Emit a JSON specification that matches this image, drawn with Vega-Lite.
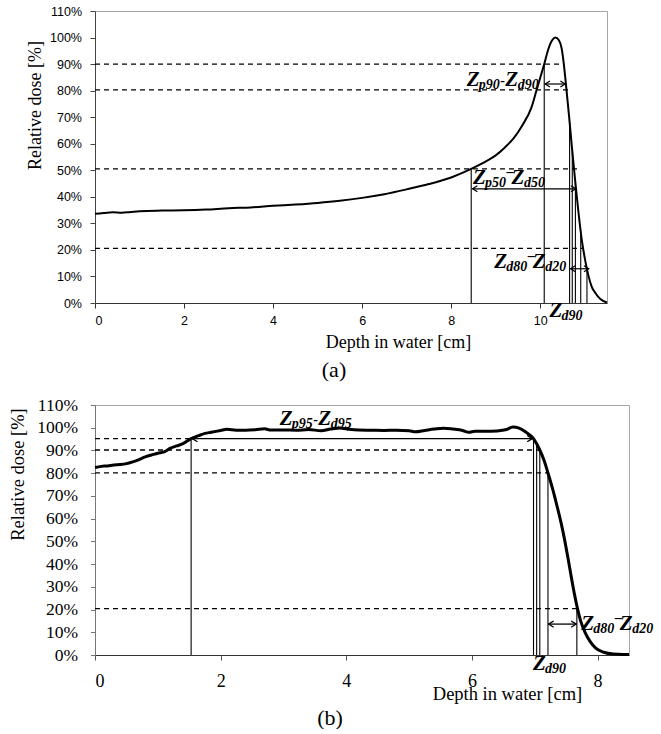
{
  "$schema": "https://vega.github.io/schema/vega-lite/v6.json",
  "background": "white",
  "padding": {"left": 5, "top": 4, "right": 0, "bottom": 0},
  "spacing": 13,
  "config": {
    "view": {"stroke": "#a6a6a6", "strokeWidth": 1},
    "axis": {"grid": false, "labelColor": "black", "titleColor": "black", "titleFontWeight": "normal"}
  },
  "datasets": {
    "curveA": [
      {"depth": 0.0, "dose": 33.6}, {"depth": 0.2, "dose": 33.9}, {"depth": 0.4, "dose": 34.2}, {"depth": 0.6, "dose": 34.0},
      {"depth": 0.8, "dose": 34.3}, {"depth": 1.0, "dose": 34.6}, {"depth": 1.5, "dose": 34.8}, {"depth": 2.0, "dose": 34.9},
      {"depth": 2.5, "dose": 35.2}, {"depth": 3.0, "dose": 35.7}, {"depth": 3.5, "dose": 36.0}, {"depth": 4.0, "dose": 36.6},
      {"depth": 4.5, "dose": 37.1}, {"depth": 5.0, "dose": 37.7}, {"depth": 5.5, "dose": 38.5}, {"depth": 6.0, "dose": 39.6},
      {"depth": 6.5, "dose": 41.0}, {"depth": 7.0, "dose": 42.8}, {"depth": 7.5, "dose": 44.8}, {"depth": 8.0, "dose": 47.3},
      {"depth": 8.45, "dose": 50.5}, {"depth": 8.8, "dose": 53.5}, {"depth": 9.0, "dose": 55.6}, {"depth": 9.2, "dose": 58.5},
      {"depth": 9.4, "dose": 62.0}, {"depth": 9.6, "dose": 67.0}, {"depth": 9.8, "dose": 73.5}, {"depth": 9.92, "dose": 80.3},
      {"depth": 10.09, "dose": 90.0}, {"depth": 10.18, "dose": 95.5}, {"depth": 10.26, "dose": 98.8}, {"depth": 10.34, "dose": 100.0},
      {"depth": 10.42, "dose": 99.0}, {"depth": 10.48, "dose": 96.0}, {"depth": 10.53, "dose": 90.0}, {"depth": 10.59, "dose": 80.3},
      {"depth": 10.65, "dose": 70.0}, {"depth": 10.71, "dose": 59.0}, {"depth": 10.78, "dose": 47.0}, {"depth": 10.86, "dose": 34.0},
      {"depth": 10.94, "dose": 23.0}, {"depth": 11.0, "dose": 17.0}, {"depth": 11.08, "dose": 10.5}, {"depth": 11.16, "dose": 6.0},
      {"depth": 11.25, "dose": 3.5}, {"depth": 11.35, "dose": 1.5}, {"depth": 11.5, "dose": 0.2}
    ],
    "levelsA": [
      {"depth": 0, "depth2": 10.54, "dose": 90.0},
      {"depth": 0, "depth2": 10.63, "dose": 80.3},
      {"depth": 0, "depth2": 10.91, "dose": 50.5},
      {"depth": 0, "depth2": 10.96, "dose": 20.6}
    ],
    "dropsA": [
      {"depth": 8.45, "dose": 0, "dose2": 50.5},
      {"depth": 10.09, "dose": 0, "dose2": 90.0},
      {"depth": 10.66, "dose": 0, "dose2": 68.0},
      {"depth": 10.72, "dose": 0, "dose2": 57.5},
      {"depth": 10.79, "dose": 0, "dose2": 45.5},
      {"depth": 10.91, "dose": 0, "dose2": 27.0},
      {"depth": 11.05, "dose": 0, "dose2": 13.0}
    ],
    "spansA": [
      {"depth": 10.11, "depth2": 10.56, "dose": 82.5},
      {"depth": 8.48, "depth2": 10.8, "dose": 43.0},
      {"depth": 10.68, "depth2": 11.09, "dose": 12.9}
    ],
    "labelsA": [
      {"depth": 8.35, "dose": 81.6, "lead": "Z", "s1": "p90", "dash": "-", "z2": "Z", "s2": "d90"},
      {"depth": 8.49, "dose": 44.7, "lead": "Z", "s1": "p50", "dash": "¯", "z2": "Z", "s2": "d50"},
      {"depth": 8.97, "dose": 13.0, "lead": "Z", "s1": "d80", "dash": "¯", "z2": "Z", "s2": "d20"},
      {"depth": 10.21, "dose": -5.4, "lead": "Z", "s1": "d90", "dash": "", "z2": "", "s2": ""}
    ],
    "curveB": [
      {"depth": 0.0, "dose": 82.5}, {"depth": 0.1, "dose": 83.0}, {"depth": 0.2, "dose": 83.2}, {"depth": 0.3, "dose": 83.6},
      {"depth": 0.4, "dose": 83.8}, {"depth": 0.5, "dose": 84.2}, {"depth": 0.6, "dose": 85.0}, {"depth": 0.7, "dose": 86.0},
      {"depth": 0.8, "dose": 87.2}, {"depth": 0.9, "dose": 88.0}, {"depth": 1.0, "dose": 88.8}, {"depth": 1.1, "dose": 89.4},
      {"depth": 1.2, "dose": 91.0}, {"depth": 1.3, "dose": 92.0}, {"depth": 1.4, "dose": 93.0}, {"depth": 1.53, "dose": 95.2},
      {"depth": 1.65, "dose": 96.5}, {"depth": 1.75, "dose": 97.5}, {"depth": 1.85, "dose": 98.0}, {"depth": 2.0, "dose": 98.8},
      {"depth": 2.1, "dose": 99.3}, {"depth": 2.25, "dose": 98.9}, {"depth": 2.4, "dose": 98.9}, {"depth": 2.55, "dose": 99.1},
      {"depth": 2.7, "dose": 99.5}, {"depth": 2.8, "dose": 99.0}, {"depth": 3.0, "dose": 99.0}, {"depth": 3.2, "dose": 98.9},
      {"depth": 3.4, "dose": 99.2}, {"depth": 3.6, "dose": 98.7}, {"depth": 3.75, "dose": 99.4}, {"depth": 3.9, "dose": 99.9},
      {"depth": 4.05, "dose": 99.3}, {"depth": 4.2, "dose": 99.0}, {"depth": 4.4, "dose": 98.9}, {"depth": 4.6, "dose": 98.8},
      {"depth": 4.8, "dose": 98.9}, {"depth": 5.0, "dose": 98.7}, {"depth": 5.1, "dose": 98.2}, {"depth": 5.25, "dose": 98.8},
      {"depth": 5.4, "dose": 99.4}, {"depth": 5.55, "dose": 99.8}, {"depth": 5.7, "dose": 99.4}, {"depth": 5.85, "dose": 98.8},
      {"depth": 5.95, "dose": 98.0}, {"depth": 6.05, "dose": 98.5}, {"depth": 6.2, "dose": 98.4}, {"depth": 6.4, "dose": 98.6},
      {"depth": 6.55, "dose": 99.2}, {"depth": 6.65, "dose": 100.3}, {"depth": 6.75, "dose": 99.8}, {"depth": 6.85, "dose": 98.2},
      {"depth": 6.98, "dose": 95.2}, {"depth": 7.08, "dose": 90.2}, {"depth": 7.15, "dose": 85.5}, {"depth": 7.21, "dose": 80.1},
      {"depth": 7.28, "dose": 73.5}, {"depth": 7.35, "dose": 66.0}, {"depth": 7.42, "dose": 58.0}, {"depth": 7.48, "dose": 50.0},
      {"depth": 7.53, "dose": 42.5}, {"depth": 7.58, "dose": 34.5}, {"depth": 7.63, "dose": 27.0}, {"depth": 7.68, "dose": 20.4},
      {"depth": 7.73, "dose": 15.0}, {"depth": 7.8, "dose": 10.0}, {"depth": 7.88, "dose": 6.0}, {"depth": 7.97, "dose": 3.0},
      {"depth": 8.1, "dose": 1.2}, {"depth": 8.25, "dose": 0.4}, {"depth": 8.4, "dose": 0.2}, {"depth": 8.5, "dose": 0.2}
    ],
    "levelsB": [
      {"depth": 0, "depth2": 1.53, "dose": 95.2},
      {"depth": 0, "depth2": 7.08, "dose": 90.2},
      {"depth": 0, "depth2": 7.21, "dose": 80.1},
      {"depth": 0, "depth2": 7.68, "dose": 20.4}
    ],
    "dropsB": [
      {"depth": 1.53, "dose": 0, "dose2": 95.2},
      {"depth": 6.98, "dose": 0, "dose2": 95.2},
      {"depth": 7.03, "dose": 0, "dose2": 93.0},
      {"depth": 7.08, "dose": 0, "dose2": 90.2},
      {"depth": 7.21, "dose": 0, "dose2": 80.1},
      {"depth": 7.67, "dose": 0, "dose2": 20.8}
    ],
    "spansB": [
      {"depth": 1.55, "depth2": 6.96, "dose": 95.2},
      {"depth": 7.22, "depth2": 7.66, "dose": 13.6}
    ],
    "labelsB": [
      {"depth": 2.94, "dose": 101.2, "lead": "Z", "s1": "p95", "dash": "-", "z2": "Z", "s2": "d95"},
      {"depth": 7.74, "dose": 11.0, "lead": "Z", "s1": "d80", "dash": "¯", "z2": "Z", "s2": "d20"},
      {"depth": 6.97, "dose": -6.8, "lead": "Z", "s1": "d90", "dash": "", "z2": "", "s2": ""}
    ]
  },
  "vconcat": [
    {
      "width": 512,
      "height": 292,
      "title": {"text": "(a)", "orient": "bottom", "frame": "group", "anchor": "middle", "dx": -17, "offset": 9,
                "font": "Liberation Serif", "fontSize": 22, "fontWeight": "normal", "color": "black"},
      "encoding": {
        "x": {"field": "depth", "type": "quantitative",
              "scale": {"domain": [0, 11.5], "nice": false, "zero": false},
              "axis": {"title": "Depth in water [cm]", "values": [0, 2, 4, 6, 8, 10], "tickSize": 5, "labelPadding": 6.5,
                       "labelFont": "Liberation Sans", "labelFontSize": 12.5, "domainColor": "#333", "tickColor": "#333",
                       "titleFont": "Liberation Serif", "titleFontSize": 18, "titleX": 303, "titleY": 39,
                       "titleAlign": "center", "titleBaseline": "middle"}},
        "y": {"field": "dose", "type": "quantitative",
              "scale": {"domain": [0, 110], "nice": false, "zero": false},
              "axis": {"title": "Relative dose [%]", "values": [0, 10, 20, 30, 40, 50, 60, 70, 80, 90, 100, 110],
                       "labelExpr": "datum.value + '%'", "tickSize": 5, "labelPadding": 8.5,
                       "labelFont": "Liberation Sans", "labelFontSize": 12.5, "domainColor": "#444", "tickColor": "#444",
                       "titleFont": "Liberation Serif", "titleFontSize": 18, "titleAngle": -90, "titleX": -60, "titleY": 94,
                       "titleAlign": "center", "titleBaseline": "middle", "titlePadding": 0, "minExtent": 85}}
      },
      "layer": [
        {"data": {"name": "levelsA"}, "mark": {"type": "rule", "color": "black", "strokeWidth": 1.3, "strokeDash": [5, 4]},
         "encoding": {"x2": {"field": "depth2"}}},
        {"data": {"name": "dropsA"}, "mark": {"type": "rule", "color": "black", "strokeWidth": 1.1},
         "encoding": {"y2": {"field": "dose2"}}},
        {"data": {"name": "spansA"}, "mark": {"type": "rule", "color": "black", "strokeWidth": 1.2},
         "encoding": {"x2": {"field": "depth2"}}},
        {"data": {"name": "spansA"}, "mark": {"type": "point", "shape": "M1.6,-1L0,0L1.6,1", "size": 36, "filled": false,
                                              "stroke": "black", "strokeWidth": 1.2, "opacity": 1}},
        {"data": {"name": "spansA"}, "mark": {"type": "point", "shape": "M-1.6,-1L0,0L-1.6,1", "size": 36, "filled": false,
                                              "stroke": "black", "strokeWidth": 1.2, "opacity": 1},
         "encoding": {"x": {"field": "depth2", "type": "quantitative", "scale": {"domain": [0, 11.5], "nice": false, "zero": false}}}},
        {"data": {"name": "curveA"}, "mark": {"type": "line", "color": "black", "strokeWidth": 2, "interpolate": "monotone"}},
        {"data": {"name": "labelsA"}, "mark": {"type": "text", "align": "left", "baseline": "alphabetic", "font": "Liberation Serif",
                                               "fontStyle": "italic", "fontWeight": "bold", "fontSize": 21, "color": "black"},
         "encoding": {"text": {"field": "lead"}}},
        {"data": {"name": "labelsA"}, "mark": {"type": "text", "align": "left", "baseline": "alphabetic", "font": "Liberation Serif",
                                               "fontStyle": "italic", "fontWeight": "bold", "fontSize": 14, "color": "black", "dx": 12, "dy": 3},
         "encoding": {"text": {"field": "s1"}}},
        {"data": {"name": "labelsA"}, "mark": {"type": "text", "align": "left", "baseline": "alphabetic", "font": "Liberation Serif",
                                               "fontWeight": "bold", "fontSize": 14, "color": "black", "dx": 33.5, "dy": -1.5},
         "encoding": {"text": {"field": "dash"}}},
        {"data": {"name": "labelsA"}, "mark": {"type": "text", "align": "left", "baseline": "alphabetic", "font": "Liberation Serif",
                                               "fontStyle": "italic", "fontWeight": "bold", "fontSize": 21, "color": "black", "dx": 38.5},
         "encoding": {"text": {"field": "z2"}}},
        {"data": {"name": "labelsA"}, "mark": {"type": "text", "align": "left", "baseline": "alphabetic", "font": "Liberation Serif",
                                               "fontStyle": "italic", "fontWeight": "bold", "fontSize": 14, "color": "black", "dx": 51, "dy": 3},
         "encoding": {"text": {"field": "s2"}}}
      ]
    },
    {
      "width": 534,
      "height": 250,
      "title": {"text": "(b)", "orient": "bottom", "frame": "group", "anchor": "middle", "dx": -32, "offset": 5,
                "font": "Liberation Serif", "fontSize": 22, "fontWeight": "normal", "color": "black"},
      "encoding": {
        "x": {"field": "depth", "type": "quantitative",
              "scale": {"domain": [0, 8.5], "nice": false, "zero": false},
              "axis": {"title": "Depth in water [cm]", "values": [0, 2, 4, 6, 8], "tickSize": 5, "labelPadding": 12,
                       "labelFont": "Liberation Serif", "labelFontSize": 18, "domainColor": "#333", "tickColor": "#555",
                       "titleFont": "Liberation Serif", "titleFontSize": 18.5, "titleX": 412, "titleY": 38,
                       "titleAlign": "center", "titleBaseline": "middle"}},
        "y": {"field": "dose", "type": "quantitative",
              "scale": {"domain": [0, 110], "nice": false, "zero": false},
              "axis": {"title": "Relative dose [%]", "values": [0, 10, 20, 30, 40, 50, 60, 70, 80, 90, 100, 110],
                       "labelExpr": "datum.value + '%'", "tickSize": 4.5, "labelPadding": 13,
                       "labelFont": "Liberation Serif", "labelFontSize": 17.5, "domainColor": "#777", "tickColor": "#777",
                       "titleFont": "Liberation Serif", "titleFontSize": 18.5, "titleAngle": -90, "titleX": -78, "titleY": 69,
                       "titleAlign": "center", "titleBaseline": "middle", "titlePadding": 0, "minExtent": 89.5}}
      },
      "layer": [
        {"data": {"name": "levelsB"}, "mark": {"type": "rule", "color": "black", "strokeWidth": 1.3, "strokeDash": [5, 4]},
         "encoding": {"x2": {"field": "depth2"}}},
        {"data": {"name": "dropsB"}, "mark": {"type": "rule", "color": "black", "strokeWidth": 1.1},
         "encoding": {"y2": {"field": "dose2"}}},
        {"data": {"name": "spansB"}, "mark": {"type": "rule", "color": "black", "strokeWidth": 1.3},
         "encoding": {"x2": {"field": "depth2"}}},
        {"data": {"name": "spansB"}, "mark": {"type": "point", "shape": "M1.6,-1L0,0L1.6,1", "size": 40, "filled": false,
                                              "stroke": "black", "strokeWidth": 1.3, "opacity": 1}},
        {"data": {"name": "spansB"}, "mark": {"type": "point", "shape": "M-1.6,-1L0,0L-1.6,1", "size": 40, "filled": false,
                                              "stroke": "black", "strokeWidth": 1.3, "opacity": 1},
         "encoding": {"x": {"field": "depth2", "type": "quantitative", "scale": {"domain": [0, 8.5], "nice": false, "zero": false}}}},
        {"data": {"name": "curveB"}, "mark": {"type": "line", "color": "black", "strokeWidth": 3, "interpolate": "monotone"}},
        {"data": {"name": "labelsB"}, "mark": {"type": "text", "align": "left", "baseline": "alphabetic", "font": "Liberation Serif",
                                               "fontStyle": "italic", "fontWeight": "bold", "fontSize": 21, "color": "black"},
         "encoding": {"text": {"field": "lead"}}},
        {"data": {"name": "labelsB"}, "mark": {"type": "text", "align": "left", "baseline": "alphabetic", "font": "Liberation Serif",
                                               "fontStyle": "italic", "fontWeight": "bold", "fontSize": 14, "color": "black", "dx": 12, "dy": 3},
         "encoding": {"text": {"field": "s1"}}},
        {"data": {"name": "labelsB"}, "mark": {"type": "text", "align": "left", "baseline": "alphabetic", "font": "Liberation Serif",
                                               "fontWeight": "bold", "fontSize": 14, "color": "black", "dx": 33.5, "dy": -1.5},
         "encoding": {"text": {"field": "dash"}}},
        {"data": {"name": "labelsB"}, "mark": {"type": "text", "align": "left", "baseline": "alphabetic", "font": "Liberation Serif",
                                               "fontStyle": "italic", "fontWeight": "bold", "fontSize": 21, "color": "black", "dx": 38.5},
         "encoding": {"text": {"field": "z2"}}},
        {"data": {"name": "labelsB"}, "mark": {"type": "text", "align": "left", "baseline": "alphabetic", "font": "Liberation Serif",
                                               "fontStyle": "italic", "fontWeight": "bold", "fontSize": 14, "color": "black", "dx": 51, "dy": 3},
         "encoding": {"text": {"field": "s2"}}}
      ]
    }
  ]
}
